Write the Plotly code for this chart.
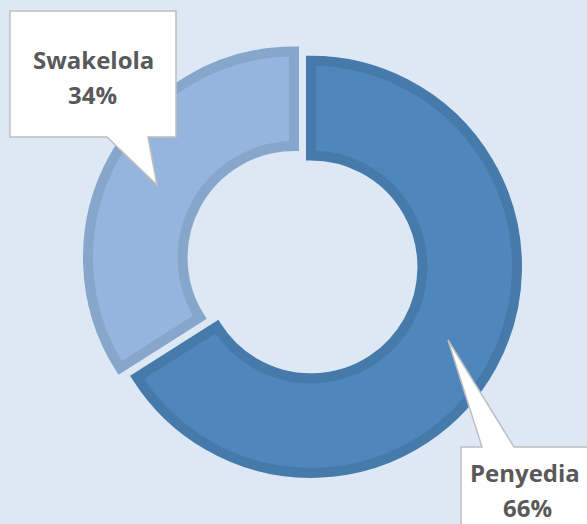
import plotly.graph_objects as go

# ---- data ----
labels = ["Penyedia", "Swakelola"]
values = [66, 34]
fill_colors = ["#4f86bc", "#95b5de"]
border_colors = ["#467aab", "#87a6cc"]
pulls = [0.047, 0.047]

W, H = 587, 524
BG = "#dde8f4"
TXT = "#595959"


def px(x):
    return x / W


def py(y):
    return 1 - y / H


def path(points):
    s = "M " + " L ".join(f"{px(x):.5f},{py(y):.5f}" for x, y in points) + " Z"
    return s


total = sum(values)
pct = [f"{round(v / total * 100)}%" for v in values]

fig = go.Figure(
    go.Pie(
        labels=labels,
        values=values,
        hole=0.541,
        sort=False,
        direction="clockwise",
        rotation=0,
        pull=pulls,
        marker=dict(colors=fill_colors, line=dict(color=border_colors, width=10)),
        textinfo="none",
        hoverinfo="label+percent",
        domain=dict(x=[px(86.8), px(518.2)], y=[py(477.9), py(46.5)]),
        showlegend=False,
    )
)

callout_style = dict(
    type="path",
    xref="paper",
    yref="paper",
    fillcolor="white",
    line=dict(color="#bfbfbf", width=1.5),
    layer="above",
)

shapes = [
    dict(path=path([(10, 11), (176, 11), (176, 137), (148, 137), (157, 185), (107, 137), (10, 137)]), **callout_style),
    dict(path=path([(461, 447), (482, 447), (448, 340), (514, 447), (600, 447), (600, 540), (461, 540)]), **callout_style),
]

font = dict(family="Open Sans", size=24, color=TXT)
annotations = [
    dict(text=f"<b>{labels[1]}</b>", x=px(93), y=py(59), xref="paper", yref="paper",
         showarrow=False, xanchor="center", yanchor="middle", font=font),
    dict(text=f"<b>{pct[1]}</b>", x=px(92), y=py(94), xref="paper", yref="paper",
         showarrow=False, xanchor="center", yanchor="middle", font=font),
    dict(text=f"<b>{labels[0]}</b>", x=px(524.5), y=py(472), xref="paper", yref="paper",
         showarrow=False, xanchor="center", yanchor="middle", font=font),
    dict(text=f"<b>{pct[0]}</b>", x=px(527), y=py(507), xref="paper", yref="paper",
         showarrow=False, xanchor="center", yanchor="middle", font=font),
]

fig.update_layout(
    width=W,
    height=H,
    margin=dict(l=0, r=0, t=0, b=0),
    paper_bgcolor=BG,
    plot_bgcolor=BG,
    shapes=shapes,
    annotations=annotations,
)

post = (
    "document.body.style.margin='0';"
    "document.body.style.overflow='hidden';"
    "var gd=document.getElementById('{plot_id}');"
    "gd.querySelectorAll('g.slice path.surface').forEach(function(p){p.style.strokeLinejoin='miter';});"
)

fig.write_html("out.html", post_script=post, config={"displayModeBar": False})
